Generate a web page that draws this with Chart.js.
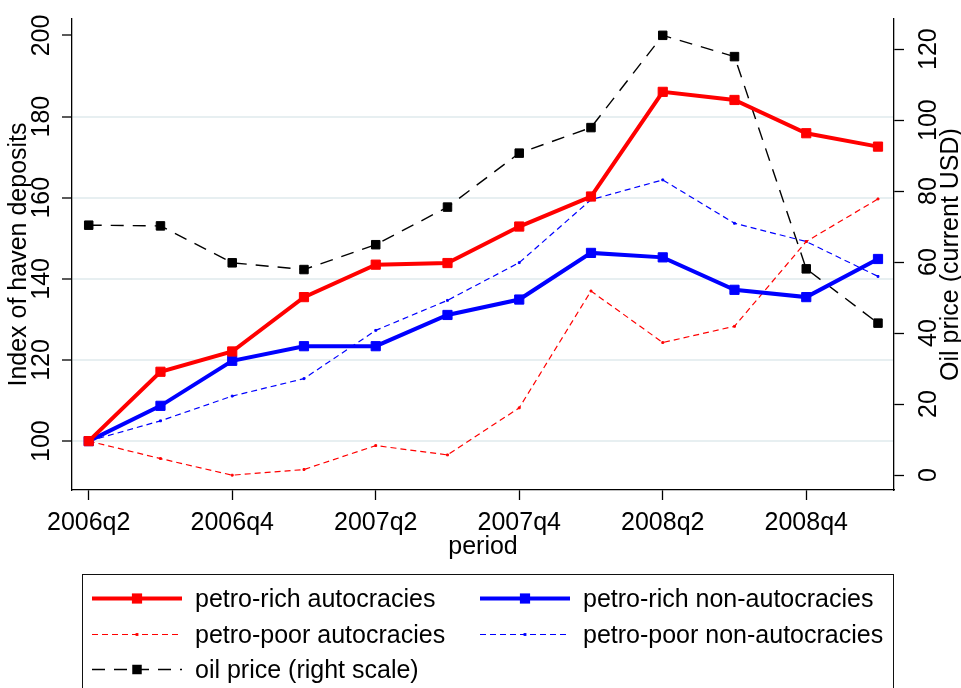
<!DOCTYPE html>
<html>
<head>
<meta charset="utf-8">
<script src="https://cdn.jsdelivr.net/npm/chart.js@4.4.1/dist/chart.umd.min.js"></script>
<style>
  html, body { margin: 0; padding: 0; background: #fff; overflow: hidden; }
  #wrap { position: relative; width: 961px; height: 688px; }
  #c { position: absolute; left: 0; top: 0; }
  #legend {
    position: absolute; left: 82px; top: 574px; width: 812px; height: 140px;
    border: 1px solid #111; box-sizing: border-box;
    font: 25px "Liberation Sans", Arial, Helvetica, sans-serif; color: #000;
  }
  .item { position: absolute; height: 35px; line-height: 35px; white-space: nowrap; }
  .item svg { position: absolute; left: 0; top: 0; }
  .item span { position: absolute; left: 103px; top: 0; }
</style>
</head>
<body>
<div id="wrap">
  <canvas id="c" width="961" height="688"></canvas>
  <div id="legend"></div>
</div>
<script>
// Quarterly periods on the x axis
const quarters = ['2006q2', '2006q3', '2006q4', '2007q1', '2007q2', '2007q3',
                  '2007q4', '2008q1', '2008q2', '2008q3', '2008q4', '2009q1'];
const xTickLabels = ['2006q2', '2006q4', '2007q2', '2007q4', '2008q2', '2008q4'];
const leftTicks = [100, 120, 140, 160, 180, 200];
const rightTicks = [0, 20, 40, 60, 80, 100, 120];

const seriesNames = ['petro-rich autocracies', 'petro-rich non-autocracies',
                     'petro-poor autocracies', 'petro-poor non-autocracies',
                     'oil price (right scale)'];

// Index of haven deposits (2006q2 = 100)
const richAutoc = [100, 117.1, 122.1, 135.5, 143.5, 143.9, 152.9, 160.3, 186.1, 184.1, 175.9, 172.6];
const richNon   = [100, 108.7, 119.8, 123.4, 123.4, 131.1, 134.9, 146.4, 145.3, 137.3, 135.5, 144.9];
const poorAutoc = [100, 95.7, 91.6, 93.0, 98.9, 96.6, 108.2, 137.0, 124.3, 128.3, 149.2, 159.7];
const poorNon   = [100, 105.0, 111.1, 115.4, 127.3, 134.7, 144.0, 159.5, 164.4, 153.7, 149.2, 140.6];
// Oil price, current USD
const oilPrice  = [70.4, 70.2, 59.8, 57.9, 64.9, 75.5, 90.7, 97.9, 123.9, 117.9, 58.1, 42.8];

const yLeftTitle = 'Index of haven deposits';
const yRightTitle = 'Oil price (current USD)';
const xTitle = 'period';

const FONT = '"Liberation Sans", Arial, Helvetica, sans-serif';
Chart.defaults.font.family = FONT;
Chart.defaults.font.size = 25;
Chart.defaults.color = '#000';

const pts = arr => arr.map((v, i) => ({ x: i, y: v }));
const GRID = '#e7eff1';

// Right-hand axis title reads bottom-to-top, like the left one
const rightTitlePlugin = {
  id: 'rightTitle',
  afterDraw(chart) {
    const { ctx, chartArea } = chart;
    const s = chart.scales.y2;
    ctx.save();
    ctx.translate(s.right - 10, (chartArea.top + chartArea.bottom) / 2);
    ctx.rotate(-Math.PI / 2);
    ctx.font = '25px ' + FONT;
    ctx.fillStyle = '#000';
    ctx.textAlign = 'center';
    ctx.textBaseline = 'middle';
    ctx.fillText(yRightTitle, 0, 0);
    ctx.restore();
  }
};

const axisBorder = { display: true, color: '#000', width: 1.3 };

const chart = new Chart(document.getElementById('c'), {
  type: 'line',
  data: {
    datasets: [
      { label: seriesNames[0], data: pts(richAutoc), yAxisID: 'y',
        borderColor: '#ff0000', backgroundColor: '#ff0000', borderWidth: 4,
        pointStyle: 'rect', pointRadius: 6.5, pointBorderWidth: 1 },
      { label: seriesNames[1], data: pts(richNon), yAxisID: 'y',
        borderColor: '#0000ff', backgroundColor: '#0000ff', borderWidth: 4,
        pointStyle: 'rect', pointRadius: 6.5, pointBorderWidth: 1 },
      { label: seriesNames[2], data: pts(poorAutoc), yAxisID: 'y',
        borderColor: '#ff0000', backgroundColor: '#ff0000', borderWidth: 1.2,
        borderDash: [6, 4], pointStyle: 'rect', pointRadius: 1.3, pointBorderWidth: 1 },
      { label: seriesNames[3], data: pts(poorNon), yAxisID: 'y',
        borderColor: '#0000ff', backgroundColor: '#0000ff', borderWidth: 1.2,
        borderDash: [6, 4], pointStyle: 'rect', pointRadius: 1.3, pointBorderWidth: 1 },
      { label: seriesNames[4], data: pts(oilPrice), yAxisID: 'y2',
        borderColor: '#000', backgroundColor: '#000', borderWidth: 1.4,
        borderDash: [13, 9], pointStyle: 'rect', pointRadius: 6, pointBorderWidth: 1 }
    ]
  },
  options: {
    responsive: false,
    animation: false,
    devicePixelRatio: 1,
    layout: { padding: { top: 18, bottom: 128, left: 0, right: 0 } },
    plugins: { legend: { display: false }, tooltip: { enabled: false } },
    elements: { line: { tension: 0 } },
    scales: {
      x: {
        type: 'linear', min: -0.233, max: 11.223,
        afterBuildTicks: s => { s.ticks = xTickLabels.map(l => ({ value: quarters.indexOf(l) })); },
        afterFit: s => { s.height = 70; },
        ticks: { callback: v => quarters[v], padding: 8, maxRotation: 0, autoSkip: false },
        grid: { drawOnChartArea: false, tickLength: 10, tickColor: '#000', tickWidth: 1.3 },
        border: axisBorder,
        title: { display: true, text: xTitle, padding: { top: 0, bottom: -2 } }
      },
      y: {
        position: 'left', min: 87.95, max: 204.06,
        afterBuildTicks: s => { s.ticks = leftTicks.map(v => ({ value: v })); },
        afterFit: s => { s.width = 72; },
        ticks: { minRotation: 90, maxRotation: 90, crossAlign: 'center', padding: -1 },
        grid: {
          color: c => (c.tick && c.tick.value === 200) ? 'rgba(0,0,0,0)' : GRID,
          lineWidth: 2, tickLength: 10, tickColor: '#000', tickWidth: 1.3
        },
        border: axisBorder,
        title: { display: true, text: yLeftTitle, padding: { top: 4, bottom: 0 } }
      },
      y2: {
        position: 'right', min: -4.22, max: 128.5,
        afterBuildTicks: s => { s.ticks = rightTicks.map(v => ({ value: v })); },
        afterFit: s => { s.width = 67; },
        ticks: { minRotation: 90, maxRotation: 90, crossAlign: 'center', padding: 4 },
        grid: { drawOnChartArea: false, tickLength: 10, tickColor: '#000', tickWidth: 1.3 },
        border: axisBorder
      }
    }
  },
  plugins: [rightTitlePlugin]
});

// Two-column legend box below the plot, built from the chart's datasets
const legendRows = [[0, 1], [2, 3], [4]];
const colLeft = [9, 397];
const rowTop = [6, 41.5, 77];
const legendEl = document.getElementById('legend');
legendRows.forEach((row, r) => {
  row.forEach((di, c) => {
    const ds = chart.data.datasets[di];
    const item = document.createElement('div');
    item.className = 'item';
    item.style.left = colLeft[c] + 'px';
    item.style.top = rowTop[r] + 'px';
    const side = ds.pointRadius * Math.SQRT2 + ds.pointBorderWidth;
    const dash = ds.borderDash ? ds.borderDash.join(' ') : 'none';
    item.innerHTML =
      '<svg width="90" height="35" xmlns="http://www.w3.org/2000/svg">' +
      '<line x1="0" y1="17.5" x2="90" y2="17.5" stroke="' + ds.borderColor +
      '" stroke-width="' + ds.borderWidth + '" stroke-dasharray="' + dash + '"/>' +
      '<rect x="' + (45 - side / 2) + '" y="' + (17.5 - side / 2) + '" width="' + side +
      '" height="' + side + '" fill="' + ds.backgroundColor + '"/></svg>';
    const span = document.createElement('span');
    span.textContent = ds.label;
    item.appendChild(span);
    legendEl.appendChild(item);
  });
});
</script>
</body>
</html>
